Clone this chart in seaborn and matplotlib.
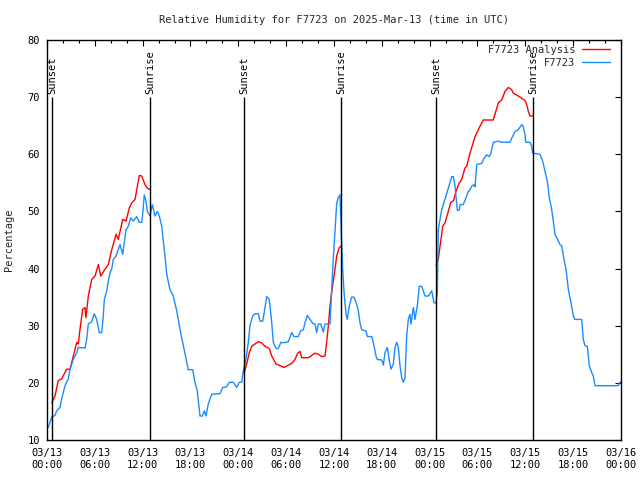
import numpy as np
import pandas as pd
import matplotlib
matplotlib.use("Agg")
import matplotlib.pyplot as plt
import matplotlib.dates as mdates
from matplotlib.lines import Line2D
import seaborn as sns

# ---------------- data ----------------
start = "2025-03-13 00:00"
title = "Relative Humidity for F7723 on 2025-Mar-13 (time in UTC)"
ylabel = "Percentage"
obs_label = "F7723"
ana_label = "F7723 Analysis"

# observed (hours since 03/13 00:00, RH %)
obs_hours = [0.16, 0.59, 1.0, 1.22, 1.63, 1.84, 2.26, 2.67, 2.89, 3.3, 3.73, 3.93, 4.77, 4.98,
             5.18, 5.61, 5.93, 6.23, 6.56, 6.86, 7.06, 7.19, 7.49, 7.69, 7.9, 8.12, 8.32, 8.66,
             8.94, 9.16, 9.5, 9.91, 10.2, 10.5, 10.83, 11.25, 11.58, 11.88, 12.0, 12.2, 12.42,
             12.58, 12.92, 13.21, 13.55, 13.84, 14.09, 14.39, 14.8, 15.02, 15.43, 15.84, 16.27,
             16.68, 17.1, 17.52, 17.72, 18.28, 18.56, 18.85, 19.19, 19.48, 19.73, 19.94, 20.23,
             20.66, 21.7, 22.04, 22.54, 22.87, 23.37, 23.8, 24.12, 24.42, 24.62, 24.96, 25.25,
             25.46, 25.8, 26.09, 26.5, 26.72, 27.06, 27.35, 27.56, 27.88, 28.19, 28.39, 28.73,
             29.01, 29.35, 29.64, 30.27, 30.69, 30.98, 31.52, 31.82, 32.15, 32.36, 32.65, 32.99,
             33.33, 33.62, 33.83, 34.03, 34.33, 34.66, 34.87, 35.5, 35.71, 35.91, 36.13, 36.34,
             36.54, 36.75, 36.84, 36.97, 37.09, 37.26, 37.51, 37.67, 37.92, 38.22, 38.51, 38.85,
             39.05, 39.26, 39.47, 40.02, 40.18, 40.73, 40.93, 41.27, 41.43, 41.99, 42.19, 42.4,
             42.69, 42.94, 43.15, 43.44, 43.65, 43.87, 44.07, 44.28, 44.49, 44.69, 44.91, 45.12,
             45.32, 45.53, 45.66, 45.95, 46.16, 46.45, 46.7, 47.0, 47.42, 47.83, 48.26, 48.54,
             48.8, 48.96, 49.08, 49.3, 49.51, 49.92, 50.34, 50.77, 50.97, 51.18, 51.47, 51.72,
             51.81, 52.22, 52.56, 52.85, 53.06, 53.27, 53.56, 53.69, 53.9, 54.53, 54.82, 55.15,
             55.48, 55.69, 55.98, 56.61, 57.04, 58.08, 58.29, 58.71, 59.12, 59.55, 59.75, 59.96,
             60.05, 60.59, 60.8, 60.93, 61.84, 62.18, 62.47, 62.76, 63.01, 63.31, 63.51, 63.72,
             63.94, 64.35, 64.56, 64.85, 65.1, 65.39, 65.69, 66.02, 66.23, 67.07, 67.27, 67.49,
             67.77, 68.02, 68.33, 68.53, 68.74, 71.66, 71.88, 72.0]
obs_rh = [12.2, 14.0, 14.3, 15.1, 15.7, 17.2, 19.5, 20.7, 22.4, 24.1, 25.3, 26.2, 26.1, 27.6,
          30.3, 30.7, 32.1, 31.1, 28.8, 28.8, 31.7, 34.6, 36.1, 37.8, 39.3, 39.9, 41.6, 42.2,
          43.3, 44.2, 42.5, 46.8, 47.4, 48.9, 48.3, 49.1, 48.1, 48.1, 49.5, 52.9, 51.8,
          50.0, 49.2, 51.2, 49.2, 50.0, 49.2, 47.4, 42.2, 39.0, 36.3, 35.2, 32.6,
          29.4, 26.5, 23.6, 22.3, 22.3, 20.1, 18.6, 14.2, 14.2, 15.1, 14.2, 16.3,
          18.0, 18.1, 19.2, 19.3, 20.1, 20.1, 19.2, 20.1, 20.1, 22.1, 24.1, 27.1,
          30.0, 31.7, 32.1, 32.1, 30.8, 30.8, 33.2, 35.1, 34.6, 30.5, 27.1, 26.0,
          26.0, 27.1, 27.0, 27.2, 28.8, 28.1, 28.1, 29.1, 29.3, 30.5, 31.8, 31.1,
          30.4, 30.3, 28.8, 30.3, 30.3, 28.9, 30.3, 30.3, 36.4, 41.6, 46.8, 51.5,
          52.4, 52.9, 49.2, 44.5, 39.9, 35.8, 32.0, 31.1, 33.5, 35.0, 35.0, 33.7,
          32.6, 30.5, 29.3, 29.1, 28.1, 28.1, 27.1, 24.7, 24.1, 24.0, 23.1, 25.3,
          26.2, 23.9, 22.4, 23.3, 26.2, 27.1, 26.2, 23.0, 20.9, 20.1, 20.9, 28.2,
          31.1, 32.0, 30.3, 33.2, 31.1, 33.5, 36.9, 36.9, 35.2, 35.2, 36.1, 34.0,
          34.0, 35.8, 46.8, 48.6, 50.3, 52.1, 54.1, 56.1, 56.1, 54.4, 50.2, 50.2,
          51.2, 51.2, 52.4, 53.5, 53.8, 54.4, 54.7, 54.3, 58.2, 58.4, 59.3, 59.9,
          59.6, 60.2, 62.1, 62.3, 62.1, 62.1, 62.8, 64.0, 64.3, 65.2, 64.8, 63.4,
          62.1, 62.1, 61.4, 60.2, 60.0, 58.8, 57.0, 55.3, 52.4, 50.3, 48.3, 46.0,
          45.4, 44.2, 44.0, 41.6, 39.9, 36.4, 34.3, 31.7, 31.1, 31.1, 27.6, 26.5,
          26.4, 23.0, 21.8, 21.2, 19.5, 19.5, 20.1, 20.1]

# analysis (NaN separates the night-time segments)
nan = float("nan")
ana_hours = [0.59, 1.0, 1.42, 1.84, 2.47, 2.89, 3.3, 3.73, 3.93, 4.14, 4.48, 4.77, 4.89, 5.18,
             5.61, 6.02, 6.44, 6.74, 7.28, 7.69, 8.12, 8.66, 8.94, 9.5, 9.91, 10.32, 10.62,
             11.04, 11.58, 11.88, 12.29, 12.71, 12.92, nan,
             24.71, 25.05, 25.38, 25.68, 26.09, 26.5, 26.93, 27.35, 27.88, 28.19, 28.73, 29.23,
             29.73, 30.27, 30.69, 31.11, 31.45, 31.74, 31.95, 32.78, 33.2, 33.62, 34.03, 34.46,
             34.87, 35.08, 35.29, 35.5, 35.79, 36.04, 36.34, 36.63, 36.84, nan,
             48.8, 49.08, 49.3, 49.64, 49.92, 50.34, 50.64, 50.97, 51.3, 51.72, 52.02, 52.43,
             52.64, 53.06, 53.69, 54.31, 54.73, 55.98, 56.61, 57.04, 57.45, 57.87, 58.29, 58.49,
             59.12, 59.55, 59.96, 60.17, 60.38, 60.59, 60.93]
ana_rh = [16.5, 17.7, 20.4, 20.7, 22.4, 22.4, 24.7, 27.1, 26.8, 29.4, 32.9, 33.2, 31.4, 35.2,
          38.1, 38.7, 40.7, 38.7, 39.9, 40.7, 43.3, 46.0, 45.1, 48.6, 48.3, 50.6, 51.5,
          52.1, 56.3, 56.2, 54.7, 53.9, 53.9, nan,
          21.7, 23.3, 25.3, 26.4, 26.8, 27.2, 27.0, 26.4, 26.0, 24.7, 23.3, 23.0,
          22.7, 23.1, 23.4, 24.1, 25.2, 25.5, 24.4, 24.4, 24.8, 25.2, 25.0, 24.6,
          24.7, 27.1, 30.0, 33.5, 36.7, 39.0, 42.2, 43.6, 43.9, nan,
          40.6, 41.6, 43.9, 47.4, 48.0, 50.0, 51.6, 51.8, 53.5, 55.0, 55.6, 57.6,
          57.9, 60.2, 63.1, 64.9, 66.0, 66.0, 69.0, 69.5, 71.0, 71.7, 71.3, 70.7,
          70.2, 69.8, 69.4, 68.7, 67.5, 66.7, 66.7]

sunset_times = ["2025-03-13 00:38", "2025-03-14 00:43", "2025-03-15 00:48"]
sunrise_times = ["2025-03-13 12:55", "2025-03-14 12:53", "2025-03-15 12:58"]
sun_label_level = 70

# ---------------- build frames ----------------
t0 = pd.Timestamp(start)
obs = pd.DataFrame({"time": t0 + pd.to_timedelta(obs_hours, unit="h"), "rh": obs_rh})
ana = pd.DataFrame({"hours": ana_hours, "rh": ana_rh})
ana["seg"] = ana["hours"].isna().cumsum()
ana = ana.dropna().copy()
ana["time"] = t0 + pd.to_timedelta(ana["hours"], unit="h")

# ---------------- style ----------------
sns.set_style("white")
plt.rcParams["font.family"] = ["DejaVu Sans Mono"]
FS = 7.5
RED = "#ff0000"
BLUE = "#1a8cff"

fig = plt.figure(figsize=(6.4, 4.8), dpi=100)
ax = fig.add_axes([47 / 640, 40 / 480, 574 / 640, 400 / 480])

for seg, d in ana.groupby("seg"):
    sns.lineplot(data=d, x="time", y="rh", color=RED, lw=1.0, ax=ax,
                 estimator=None, sort=False)
sns.lineplot(data=obs, x="time", y="rh", color=BLUE, lw=1.0, ax=ax,
             estimator=None, sort=False)

ymin, ymax = 10, 80
for lab, times in (("Sunset", sunset_times), ("Sunrise", sunrise_times)):
    for ts in times:
        t = pd.Timestamp(ts)
        ax.vlines(t, ymin, sun_label_level, color="black", lw=1.0, zorder=3)
        ax.text(t, sun_label_level + 0.6, lab, rotation=90, ha="center", va="bottom",
                fontsize=FS, color="black")

ax.set_xlim(t0, t0 + pd.Timedelta(hours=72))
ax.set_ylim(ymin, ymax)
ax.set_yticks(range(10, 81, 10))
ax.xaxis.set_major_locator(mdates.HourLocator(byhour=[0, 6, 12, 18]))
ax.xaxis.set_minor_locator(mdates.HourLocator(byhour=range(0, 24, 2)))
ax.xaxis.set_major_formatter(mdates.DateFormatter("%m/%d\n%H:%M"))

ax.tick_params(axis="both", which="both", direction="in", top=True, right=True,
               colors="black", labelsize=FS)
ax.tick_params(axis="both", which="major", length=4.5, width=0.8)
ax.tick_params(axis="x", which="minor", length=2.5, width=0.8)
ax.tick_params(axis="x", which="major", pad=6)
ax.tick_params(axis="y", which="major", pad=5)
for s in ax.spines.values():
    s.set_color("black")
    s.set_linewidth(1.0)
    s.set_visible(True)

ax.set_xlabel("")
ax.set_ylabel(ylabel, fontsize=FS, labelpad=10)
ax.set_title(title, fontsize=FS, pad=12)

handles = [Line2D([], [], color=RED, lw=1.0), Line2D([], [], color=BLUE, lw=1.0)]
leg = ax.legend(handles, [ana_label, obs_label], loc="upper right", frameon=False,
                markerfirst=False, fontsize=FS, handlelength=2.7, handletextpad=0.6,
                labelspacing=0.25, borderaxespad=0.0, borderpad=0.2,
                bbox_to_anchor=(0.984, 0.9925))

fig.savefig("out.png", dpi=100)
